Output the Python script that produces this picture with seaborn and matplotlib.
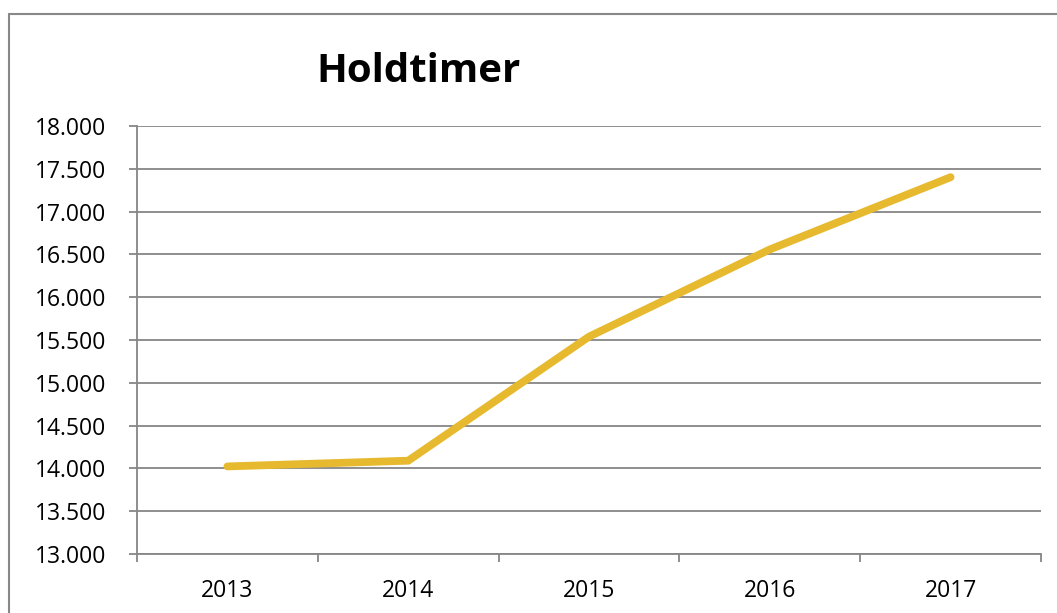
import matplotlib
matplotlib.use("Agg")
import matplotlib.pyplot as plt
import seaborn as sns
import pandas as pd
from matplotlib.lines import Line2D
from matplotlib.ticker import FuncFormatter, FixedLocator

years = ["2013", "2014", "2015", "2016", "2017"]
hours = [14023, 14090, 15539, 16558, 17402]
title = "Holdtimer"

sns.set_theme(style="white")
plt.rcParams["font.family"] = ["Open Sans", "DejaVu Sans"]

W, H = 1057, 613
fig = plt.figure(figsize=(W / 100, H / 100), dpi=100)
ax = fig.add_axes([137 / W, 1 - 554 / H, (1041 - 137) / W, (554 - 126) / H])

df = pd.DataFrame({"year": years, "hours": hours})
sns.lineplot(data=df, x="year", y="hours", ax=ax, color="#E6B92E",
             linewidth=5.6, solid_capstyle="round", solid_joinstyle="miter", sort=False)

ax.set_xlim(-0.5, len(years) - 0.5)
ax.set_ylim(13000, 18000)
ax.set_yticks(range(13000, 18001, 500))
ax.yaxis.set_major_formatter(FuncFormatter(lambda v, p: f"{v/1000:.3f}"))
ax.grid(axis="y", color="#868686", linewidth=1.3)
ax.set_axisbelow(True)
ax.set_xlabel("")
ax.set_ylabel("")

for s in ["top", "right"]:
    ax.spines[s].set_visible(False)
for s in ["left", "bottom"]:
    ax.spines[s].set_color("#868686")
    ax.spines[s].set_linewidth(1.3)

ax.tick_params(axis="y", which="major", length=6, width=1.3, color="#868686",
               direction="out", pad=16, labelsize=16.5, labelcolor="black", left=True)
ax.tick_params(axis="x", which="major", length=0, pad=18, labelsize=16.5, labelcolor="black")
ax.xaxis.set_minor_locator(FixedLocator([i - 0.5 for i in range(len(years) + 1)]))
ax.tick_params(axis="x", which="minor", length=6, width=1.3, color="#868686",
               direction="out", bottom=True)

fig.text(419 / W, 1 - 72 / H, title, ha="center", va="center",
         fontsize=29, fontweight="bold", color="black")

# outer chart frame (cut off at right and bottom)
fig.add_artist(Line2D([8.5 / W, 1.0], [1 - 13.5 / H, 1 - 13.5 / H],
                      transform=fig.transFigure, color="#888888", linewidth=1.5))
fig.add_artist(Line2D([8.5 / W, 8.5 / W], [0.0, 1 - 13.5 / H],
                      transform=fig.transFigure, color="#888888", linewidth=1.5))

fig.savefig("out.png", dpi=100, facecolor="white")
